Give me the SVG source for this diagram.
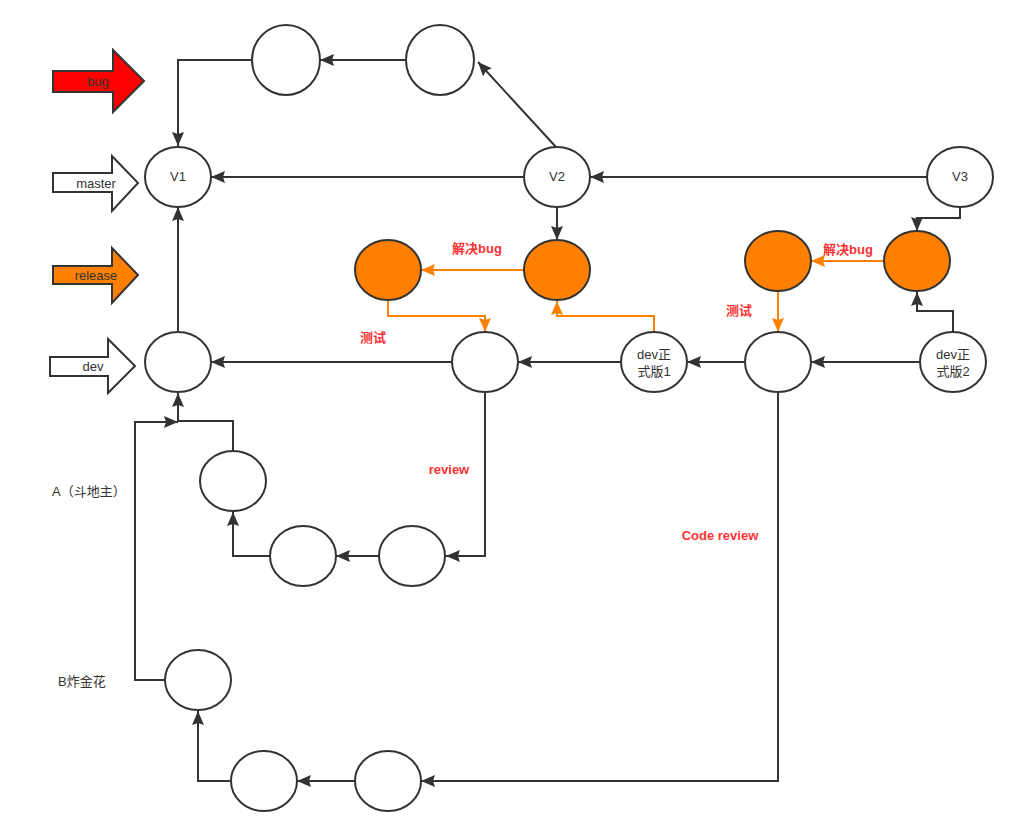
<svg xmlns="http://www.w3.org/2000/svg" width="1018" height="836" viewBox="0 0 1018 836">
  <style>
    .node { fill: #ffffff; stroke: #333333; stroke-width: 2; }
    .hot { fill: #ff8000; stroke: #333333; stroke-width: 2; }
    .lbl { font-family: "Liberation Sans", "Noto Sans CJK SC", sans-serif; font-size: 13px; fill: #333333; text-anchor: middle; }
    .note { font-family: "Liberation Sans", "Noto Sans CJK SC", sans-serif; font-size: 13px; font-weight: bold; fill: #ff3333; text-anchor: middle; }
    .side { font-family: "Liberation Sans", "Noto Sans CJK SC", sans-serif; font-size: 13px; fill: #333333; }
    .edge { fill: none; stroke: #333333; stroke-width: 2; marker-end: url(#arr); }
    .edge-o { fill: none; stroke: #ff8000; stroke-width: 2; marker-end: url(#arr-o); }
    .flag { stroke: #333333; stroke-width: 2; }
  </style>
  <defs>
    <marker id="arr" markerUnits="userSpaceOnUse" viewBox="0 0 14 12" markerWidth="14" markerHeight="12" refX="14" refY="6" orient="auto">
      <path d="M0,0 L14,6 L0,12 L2,6 Z" fill="#333333"/>
    </marker>
    <marker id="arr-o" markerUnits="userSpaceOnUse" viewBox="0 0 14 12" markerWidth="14" markerHeight="12" refX="14" refY="6" orient="auto">
      <path d="M0,0 L14,6 L0,12 L2,6 Z" fill="#ff8000"/>
    </marker>
  </defs>
  <rect width="1018" height="836" fill="#ffffff"/>

  <!-- branch flags -->
  <g id="flag-bug">
    <path class="flag" fill="#ff0000" d="M53,71 L113,71 L113,50 L144,81 L113,112 L113,92 L53,92 Z"/>
    <text class="lbl" x="98" y="86">bug</text>
  </g>
  <g id="flag-master">
    <path class="flag" fill="#ffffff" d="M53,173 L112,173 L112,156 L138,183 L112,211 L112,192 L53,192 Z"/>
    <text class="lbl" x="96" y="188">master</text>
  </g>
  <g id="flag-release">
    <path class="flag" fill="#ff8000" d="M53,266 L112,266 L112,248 L138,275 L112,303 L112,284 L53,284 Z"/>
    <text class="lbl" x="96" y="280">release</text>
  </g>
  <g id="flag-dev">
    <path class="flag" fill="#ffffff" d="M50,357 L108,357 L108,339 L135,366 L108,393 L108,376 L50,376 Z"/>
    <text class="lbl" x="93" y="371">dev</text>
  </g>

  <!-- connectors -->
  <g id="connectors">
    <path class="edge" d="M406,60 L320,60"/>
    <path class="edge" d="M252,60 L178,60 L178,146"/>
    <path class="edge" d="M556,147 L478,62"/>
    <path class="edge" d="M524,177 L211,177"/>
    <path class="edge" d="M927,177 L590,177"/>
    <path class="edge" d="M557,207 L557,240"/>
    <path class="edge-o" d="M524,270 L421,270"/>
    <path class="edge-o" d="M388,300 L388,316 L485,316 L485,332"/>
    <path class="edge-o" d="M654,332 L654,316 L557,316 L557,301"/>
    <path class="edge" d="M452,362 L211,362"/>
    <path class="edge" d="M621,362 L518,362"/>
    <path class="edge" d="M745,362 L687,362"/>
    <path class="edge" d="M921,362 L811,362"/>
    <path class="edge" d="M960,207 L960,218 L917,218 L917,231"/>
    <path class="edge" d="M953,332 L953,311 L917,311 L917,292"/>
    <path class="edge-o" d="M884,261 L811,261"/>
    <path class="edge-o" d="M778,292 L778,332"/>
    <path class="edge" d="M485,393 L485,556 L446,556"/>
    <path class="edge" d="M379,556 L336,556"/>
    <path class="edge" d="M270,556 L233,556 L233,512"/>
    <path class="edge" d="M233,451 L233,421 L178,421 L178,393"/>
    <path class="edge" d="M164,680 L135,680 L135,422 L178,422"/>
    <path class="edge" d="M778,393 L778,781 L421,781"/>
    <path class="edge" d="M355,781 L297,781"/>
    <path class="edge" d="M230,781 L198,781 L198,711"/>
    <path class="edge" d="M178,331 L178,207"/>
  </g>

  <!-- bug branch -->
  <g id="bug-1"><ellipse class="node" cx="286" cy="60" rx="34" ry="35"/></g>
  <g id="bug-2"><ellipse class="node" cx="440" cy="60" rx="34" ry="35"/></g>

  <!-- master -->
  <g id="v1"><ellipse class="node" cx="178" cy="177" rx="33" ry="30"/><text class="lbl" x="178" y="181">V1</text></g>
  <g id="v2"><ellipse class="node" cx="557" cy="177" rx="33" ry="30"/><text class="lbl" x="557" y="181">V2</text></g>
  <g id="v3"><ellipse class="node" cx="960" cy="177" rx="33" ry="30"/><text class="lbl" x="960" y="181">V3</text></g>

  <!-- release -->
  <g id="rel-1"><ellipse class="hot" cx="388" cy="270" rx="33" ry="30"/></g>
  <g id="rel-2"><ellipse class="hot" cx="557" cy="270" rx="33" ry="30"/></g>
  <g id="rel-3"><ellipse class="hot" cx="778" cy="261" rx="33" ry="30"/></g>
  <g id="rel-4"><ellipse class="hot" cx="917" cy="261" rx="33" ry="30"/></g>

  <!-- dev -->
  <g id="dev-0"><ellipse class="node" cx="178" cy="362" rx="33" ry="30"/></g>
  <g id="dev-1"><ellipse class="node" cx="485" cy="362" rx="33" ry="30"/></g>
  <g id="dev-release-1"><ellipse class="node" cx="654" cy="362" rx="33" ry="30"/>
    <text class="lbl" x="654" y="359">dev正</text><text class="lbl" x="654" y="376">式版1</text></g>
  <g id="dev-2"><ellipse class="node" cx="778" cy="362" rx="33" ry="30"/></g>
  <g id="dev-release-2"><ellipse class="node" cx="953" cy="362" rx="33" ry="30"/>
    <text class="lbl" x="953" y="359">dev正</text><text class="lbl" x="953" y="376">式版2</text></g>

  <!-- feature A -->
  <g id="a-1"><ellipse class="node" cx="233" cy="481" rx="33" ry="30"/></g>
  <g id="a-2"><ellipse class="node" cx="303" cy="556" rx="33" ry="30"/></g>
  <g id="a-3"><ellipse class="node" cx="412" cy="556" rx="33" ry="30"/></g>

  <!-- feature B -->
  <g id="b-1"><ellipse class="node" cx="198" cy="680" rx="33" ry="30"/></g>
  <g id="b-2"><ellipse class="node" cx="264" cy="781" rx="33" ry="30"/></g>
  <g id="b-3"><ellipse class="node" cx="388" cy="781" rx="33" ry="30"/></g>

  <!-- annotations -->
  <text class="note" x="477" y="253">解决bug</text>
  <text class="note" x="848" y="254">解决bug</text>
  <text class="note" x="373" y="342">测试</text>
  <text class="note" x="739" y="315">测试</text>
  <text class="note" x="449" y="474">review</text>
  <text class="note" x="720" y="540">Code review</text>
  <text class="side" x="52" y="496">A（斗地主）</text>
  <text class="side" x="58" y="686">B炸金花</text>
</svg>
